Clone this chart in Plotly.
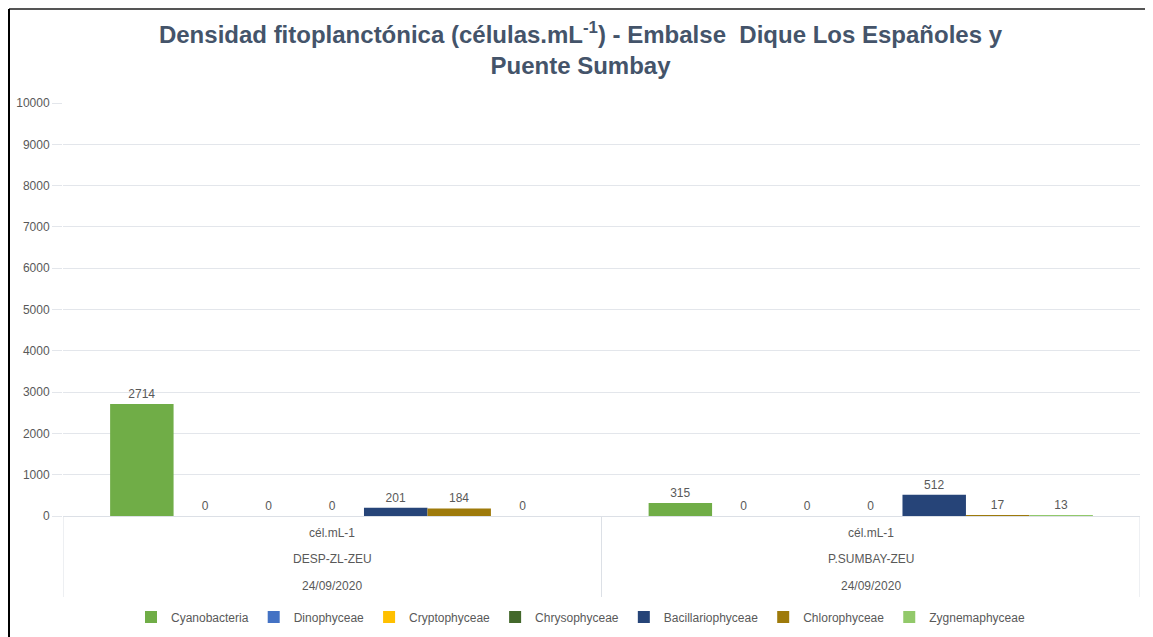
import plotly.graph_objects as go

# Estaciones de muestreo
estaciones = ['DESP-ZL-ZEU', 'P.SUMBAY-ZEU']
unidades = ['cél.mL-1', 'cél.mL-1']
fechas = ['24/09/2020', '24/09/2020']

# Grupos fitoplanctónicos
grupos = ['Cyanobacteria', 'Dinophyceae', 'Cryptophyceae', 'Chrysophyceae',
          'Bacillariophyceae', 'Chlorophyceae', 'Zygnemaphyceae']
colores = ['#70AD47', '#4472C4', '#FFC000', '#43682B',
           '#264478', '#9E7A0B', '#92C96A']

# Densidad (células/mL) por grupo, una lista por estación
cyanobacteria = [2714, 315]
dinophyceae = [0, 0]
cryptophyceae = [0, 0]
chrysophyceae = [0, 0]
bacillariophyceae = [201, 512]
chlorophyceae = [184, 17]
zygnemaphyceae = [0, 13]

valores = [cyanobacteria, dinophyceae, cryptophyceae, chrysophyceae,
           bacillariophyceae, chlorophyceae, zygnemaphyceae]

texto_gris = '#595959'
grid_color = '#E3E6EB'

# La página tiene un margen de 8 px alrededor del gráfico
W, H = 1145, 629
ML, MR, MT, MB = 55, 13, 95, 121
plot_w = W - ML - MR
plot_h = H - MT - MB

fig = go.Figure()

for nombre, color, vals in zip(grupos, colores, valores):
    fig.add_trace(
        go.Bar(
            x=estaciones,
            y=vals,
            name=nombre,
            marker=dict(color=color, line=dict(width=0)),
            text=[str(v) for v in vals],
            textposition='outside',
            textfont=dict(family='Liberation Sans, Arial', size=12, color=texto_gris),
            cliponaxis=False
        )
    )

# Etiquetas de categoría en tres filas (unidad / estación / fecha)
filas = [(unidades, -17), (estaciones, -43), (fechas, -70)]
for etiquetas, dy in filas:
    for est, etiqueta in zip(estaciones, etiquetas):
        fig.add_annotation(
            x=est, xref='x', y=dy / plot_h, yref='paper',
            text=etiqueta, showarrow=False,
            font=dict(family='Liberation Sans, Arial', size=12, color=texto_gris),
            xanchor='center', yanchor='middle'
        )

# Cajas de las categorías
for xb in [-0.5, 0.5, 1.5]:
    fig.add_shape(type='line', xref='x', yref='paper',
                  x0=xb, x1=xb, y0=0, y1=-81 / plot_h,
                  line=dict(color='#DCE0E6', width=1))

# Marco del gráfico (borde superior e izquierdo)
x_borde = (1 - ML) / plot_w
y_borde = 1 + (MT - 1) / plot_h
fig.add_shape(type='line', xref='paper', yref='paper',
              x0=x_borde, x1=1.02, y0=y_borde, y1=y_borde,
              line=dict(color='#555555', width=2))
fig.add_shape(type='line', xref='paper', yref='paper',
              x0=x_borde, x1=x_borde, y0=y_borde, y1=-0.35,
              line=dict(color='#000000', width=2))

fig.update_layout(
    width=W,
    height=H,
    margin=dict(l=ML, r=MR, t=MT, b=MB, autoexpand=False),
    paper_bgcolor='white',
    plot_bgcolor='white',
    barmode='group',
    bargap=0.175,
    bargroupgap=0,
    title=dict(
        text='<b>Densidad fitoplanctónica (células.mL<sup>-1</sup>) - Embalse  Dique Los Españoles y<br>Puente Sumbay</b>',
        x=0.5, xref='container', xanchor='center',
        y=0.945, yref='container', yanchor='middle',
        font=dict(family='Liberation Sans, Arial', size=24, color='#44546A')
    ),
    xaxis=dict(
        range=[-0.5, 1.5],
        showticklabels=False,
        showline=False,
        showgrid=False,
        zeroline=False
    ),
    yaxis=dict(
        range=[0, 10000],
        dtick=1000,
        tickformat='d',
        showgrid=True,
        gridcolor=grid_color,
        gridwidth=1,
        zeroline=True,
        zerolinecolor='#DCE0E6',
        zerolinewidth=1,
        ticks='outside',
        ticklen=10,
        tickcolor=grid_color,
        tickfont=dict(family='Liberation Sans, Arial', size=12, color=texto_gris),
        showline=False
    ),
    legend=dict(
        orientation='h',
        x=0.5, xref='container', xanchor='center',
        y=-101 / plot_h, yanchor='middle',
        font=dict(family='Liberation Sans, Arial', size=12, color=texto_gris),
        itemwidth=30,
        traceorder='normal'
    ),
    showlegend=True
)

fig.write_html("out.html")
